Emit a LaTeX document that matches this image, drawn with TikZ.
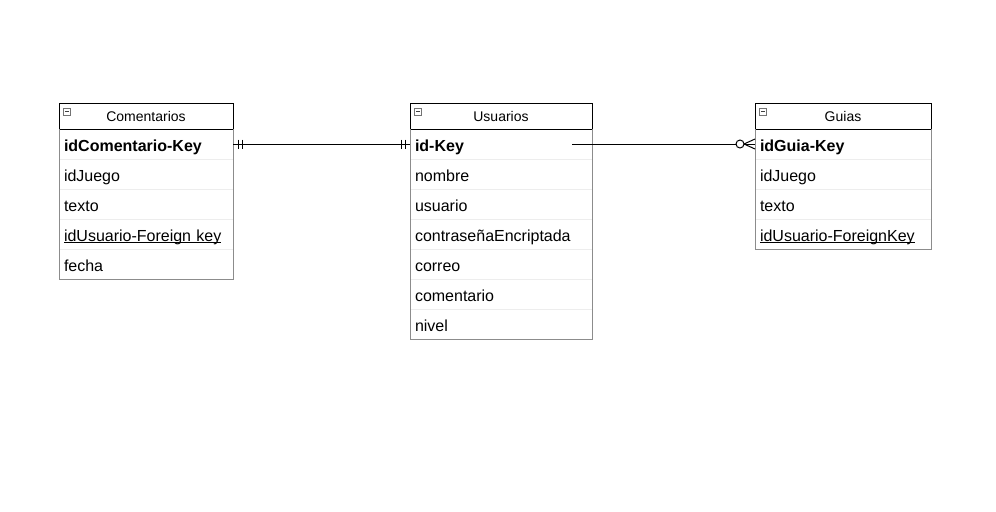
\documentclass[tikz,border=0pt]{standalone}
\usepackage{fontspec}
\setmainfont{Liberation Sans}
\usetikzlibrary{positioning}
\newsavebox\fkbox
\newcommand{\fkul}[1]{\sbox\fkbox{#1}\rlap{\rule[-1.6pt]{\wd\fkbox}{0.6pt}}\usebox\fkbox}
\tikzset{
  tablehead/.style={draw,fill=white,minimum height=19.5pt,inner sep=0pt,outer sep=0pt,
    font=\fontsize{10.5}{12}\selectfont},
  row/.style={minimum height=22.5pt,inner xsep=3.75pt,inner ysep=0pt,outer sep=0pt,
    text height=10.5pt,text depth=0pt,align=left,font=\fontsize{12}{14}\selectfont},
  tableframe/.style={draw=black!45},
  rowsep/.style={draw=black!7},
  collapse/.style={draw=black!55,minimum size=5.5pt,inner sep=0pt,anchor=north west,
    path picture={\draw[black!75,line width=0.6pt] ([xshift=1.2pt]path picture bounding box.west)
      -- ([xshift=-1.2pt]path picture bounding box.east);}},
}
\begin{document}
\begin{tikzpicture}[x=0.75pt,y=-0.75pt,line width=0.75pt]
\useasboundingbox (0,0) rectangle (996,511);

% Comentarios
\node[tablehead,minimum width=130.5pt] (com0) at (146,116) {Comentarios};
\foreach \txt [count=\i, remember=\i as \j (initially 0)] in
    {\textbf{idComentario-Key}, idJuego, texto, \fkul{idUsuario-Foreign key}, fecha}
  \node[row,text width=123pt,below=0pt of com\j] (com\i) {\txt};
\foreach \i in {1,...,4} \draw[rowsep] (com\i.south west) -- (com\i.south east);
\draw[tableframe] (com1.north west) -- (com5.south west) -- (com5.south east) -- (com1.north east);
\node[collapse] (comicon) at ([xshift=3pt,yshift=-3.5pt]com0.north west) {};

% Usuarios
\node[tablehead,minimum width=136.5pt] (usu0) at (501,116) {Usuarios};
\foreach \txt [count=\i, remember=\i as \j (initially 0)] in
    {\textbf{id-Key}, nombre, usuario, contraseñaEncriptada, correo, comentario, nivel}
  \node[row,text width=129pt,below=0pt of usu\j] (usu\i) {\txt};
\foreach \i in {1,...,6} \draw[rowsep] (usu\i.south west) -- (usu\i.south east);
\draw[tableframe] (usu1.north west) -- (usu7.south west) -- (usu7.south east) -- (usu1.north east);
\node[collapse] (usuicon) at ([xshift=3pt,yshift=-3.5pt]usu0.north west) {};

% Guias
\node[tablehead,minimum width=132pt] (gui0) at (843,116) {Guias};
\foreach \txt [count=\i, remember=\i as \j (initially 0)] in
    {\textbf{idGuia-Key}, idJuego, texto, \fkul{idUsuario-ForeignKey}}
  \node[row,text width=124.5pt,below=0pt of gui\j] (gui\i) {\txt};
\foreach \i in {1,...,3} \draw[rowsep] (gui\i.south west) -- (gui\i.south east);
\draw[tableframe] (gui1.north west) -- (gui4.south west) -- (gui4.south east) -- (gui1.north east);
\node[collapse] (guiicon) at ([xshift=3pt,yshift=-3.5pt]gui0.north west) {};

% one to one
\draw (com1.east) -- (usu1.west);
\foreach \d in {5,9} {
  \draw ([xshift=\d*0.75pt]com1.east) ++(0,-4.5) -- ++(0,9);
  \draw ([xshift=-\d*0.75pt]usu1.west) ++(0,-4.5) -- ++(0,9);
}

% one to many
\coordinate (usutail) at ([xshift=-15pt]usu1.east);
\draw (usutail) -- (gui1.west);
\draw[fill=white] ([xshift=-11.25pt]gui1.west) circle (3pt);
\draw ([xshift=-8.25pt]gui1.west) -- ([yshift=3.75pt]gui1.west)
      ([xshift=-8.25pt]gui1.west) -- ([yshift=-3.75pt]gui1.west);
\end{tikzpicture}
\end{document}
